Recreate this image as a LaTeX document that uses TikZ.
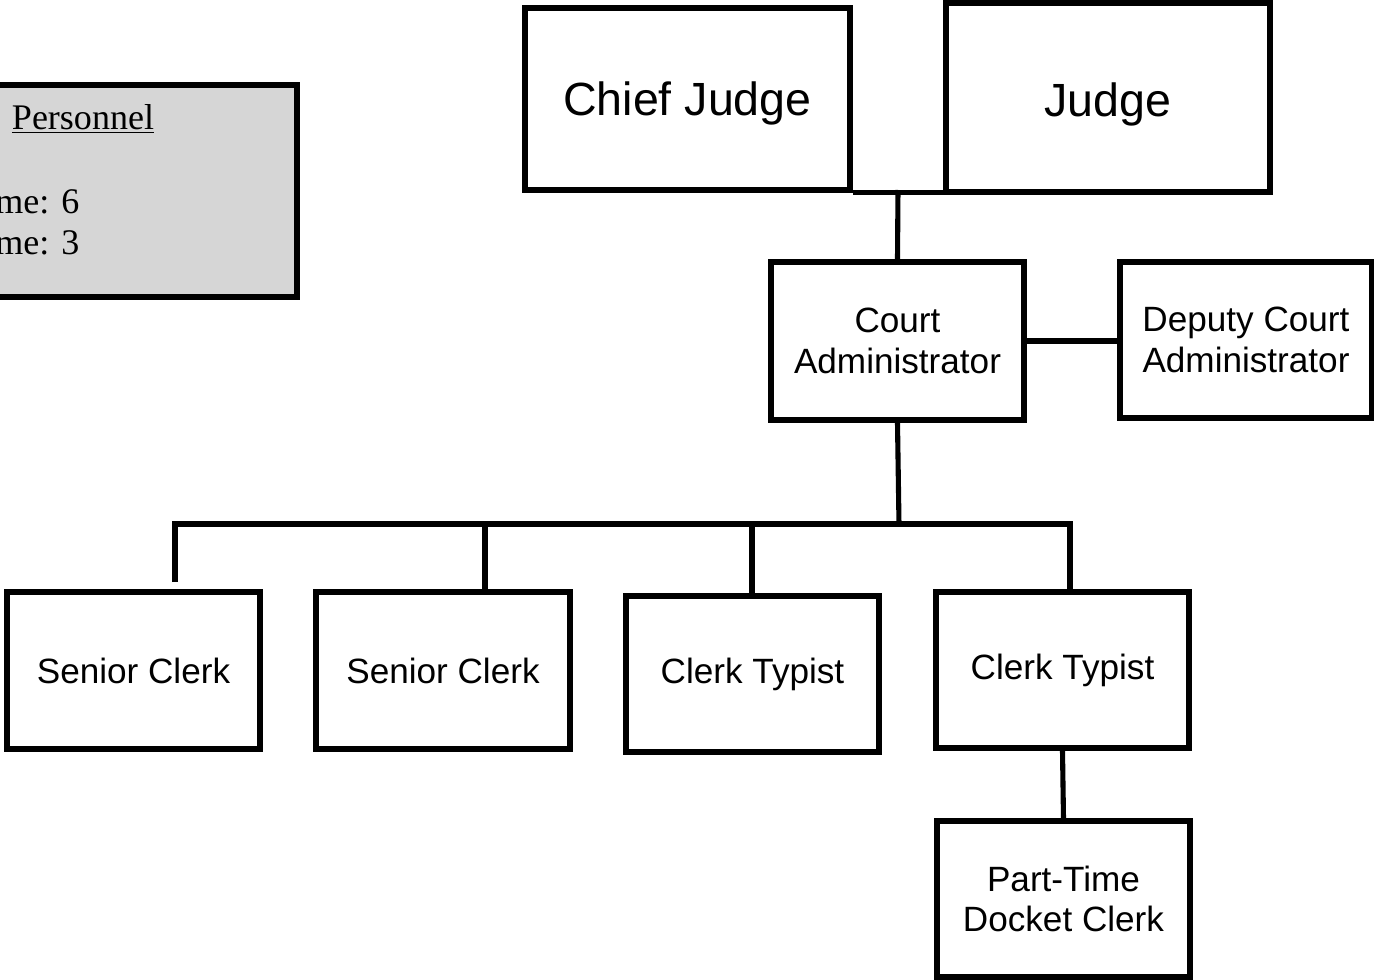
\documentclass[tikz,border=0pt]{standalone}
\usepackage{fontspec}
\setmainfont{Liberation Sans}
\newfontfamily\timesfont{Liberation Serif}
\begin{document}
\begin{tikzpicture}[x=0.02cm,y=-0.02cm,
  orgbox/.style={draw=black, line width=2.9pt, fill=white, inner sep=0pt, align=center, font=\fontsize{20}{23.2}\selectfont},
  wire/.style={line width=2.9pt, line join=miter}]
\useasboundingbox (0,0) rectangle (1374,980);
% personnel box
\node[draw=black, line width=3pt, fill=black!16, inner sep=0pt, minimum width=6.34cm, minimum height=4.24cm] (pers) at (138.5,191) {};
\node[font=\timesfont\fontsize{20.5}{24}\selectfont, anchor=base, inner sep=0pt] (ptitle) at (83,130) {\underline{Personnel}};
\node[font=\timesfont\fontsize{20.5}{24}\selectfont, anchor=base west, inner sep=0pt] (pft) at (-5,214) {me: 6};
\node[font=\timesfont\fontsize{20.5}{24}\selectfont, anchor=base west, inner sep=0pt] (ppt) at (-5,255) {me: 3};
% top boxes
\node[orgbox, minimum width=6.5cm, minimum height=3.64cm, font=\fontsize{26.5}{30}\selectfont, text depth=0pt] (cj) at (687.5,99) {Chief Judge};
\node[orgbox, minimum width=6.48cm, minimum height=3.78cm, font=\fontsize{26.5}{30}\selectfont, text depth=0pt, text height=22pt] (j) at (1108,97.5) {Judge};
\node[orgbox, minimum width=5.06cm, minimum height=3.16cm] (ca) at (897.5,341) {Court\\Administrator};
\node[orgbox, minimum width=5.04cm, minimum height=3.12cm] (dca) at (1246,340) {Deputy Court\\Administrator};
% row boxes
\node[orgbox, minimum width=5.06cm, minimum height=3.14cm] (sc1) at (133.5,670.5) {Senior Clerk};
\node[orgbox, minimum width=5.08cm, minimum height=3.14cm] (sc2) at (443,670.5) {Senior Clerk};
\node[orgbox, minimum width=5.06cm, minimum height=3.12cm] (ct1) at (752.5,674) {Clerk Typist};
\node[orgbox, minimum width=5.06cm, minimum height=3.12cm] (ct2) at (1062.5,670) {Clerk Typist};
\node[orgbox, minimum width=5.06cm, minimum height=3.12cm] (pt) at (1063.5,899) {Part-Time\\Docket Clerk};
% connectors
\coordinate (jm) at (898,190);
\draw[wire] (cj.south east) -- (cj.south east -| j.west);
\draw[wire] (jm) -- (ca.north);
\draw[wire] (ca.east) -- (ca.east -| dca.west);
\coordinate (bus) at (899,524);
\coordinate (d1) at (175,582);
\coordinate (b2) at (485,524);
\coordinate (b3) at (752,524);
\coordinate (b4) at (1070,524);
\draw[wire] (ca.south) -- (bus);
\draw[wire] (d1) |- (b4) -- (b4 |- ct2.north);
\draw[wire] (b2) -- (b2 |- sc2.north);
\draw[wire] (b3) -- (b3 |- ct1.north);
\draw[wire] (ct2.south) -- (pt.north);
\end{tikzpicture}
\end{document}
